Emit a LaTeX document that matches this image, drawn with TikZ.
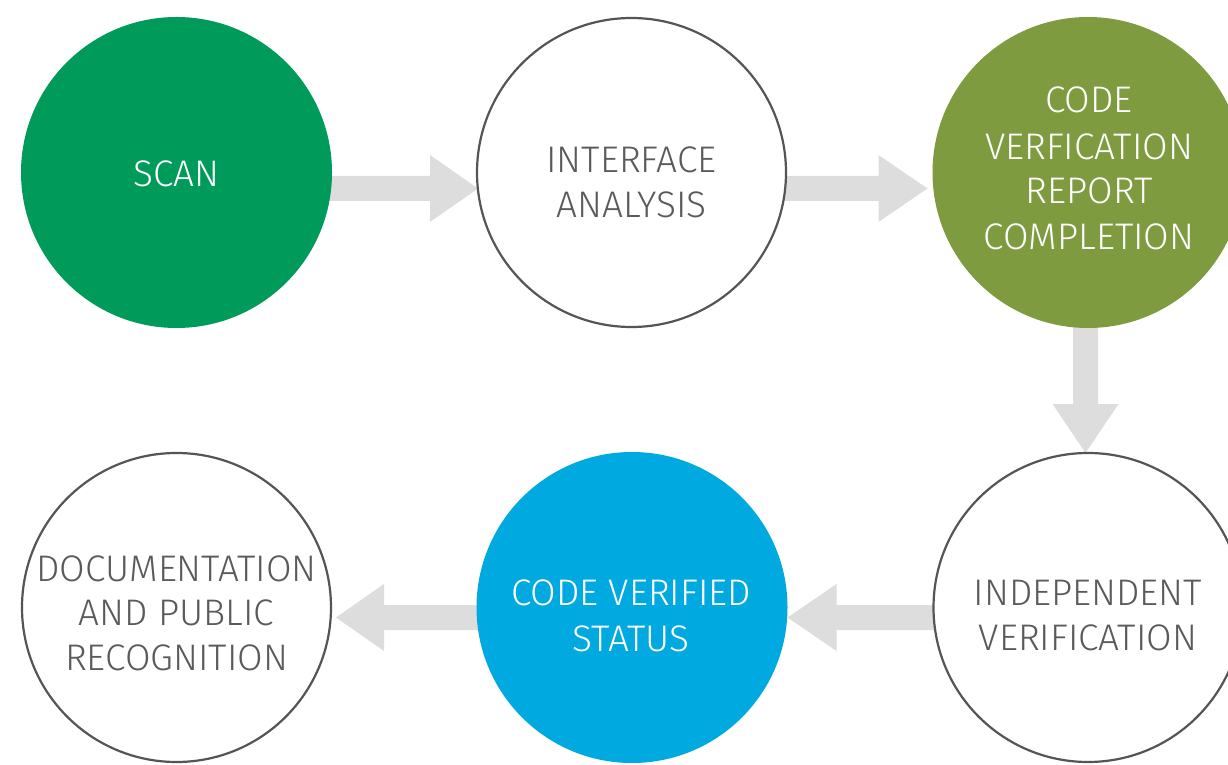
\documentclass[tikz,border=0pt]{standalone}
\usepackage{fontspec}
\setmainfont{Fira Sans}[UprightFont={* Light}]
\usetikzlibrary{calc}
\pgfdeclarelayer{bg}
\pgfsetlayers{bg,main}
\definecolor{scangreen}{HTML}{009A5B}
\definecolor{olivegreen}{HTML}{7F9B3F}
\definecolor{skyblue}{HTML}{00A9E0}
\definecolor{ringgray}{HTML}{555555}
\definecolor{txtgray}{HTML}{5A5A5A}
\definecolor{flowgray}{HTML}{DDDDDD}
\begin{document}
\begin{tikzpicture}[x=1pt,y=1pt,
  stage/.style={circle, inner sep=0pt, outer sep=0pt},
  solidstage/.style={stage, fill=#1, minimum size=311pt},
  ringstage/.style={stage, fill=white, draw=ringgray, line width=2.2pt, minimum size=309pt},
  lbl/.style={anchor=base, inner sep=0pt, font=\fontsize{37}{44}\selectfont, text=#1},
  flowfill/.style={fill=flowgray},
]
\useasboundingbox (0,0) rectangle (1228,764);

% stages
\node[solidstage=scangreen] (c1) at (176.5,591.5) {};
\node[ringstage] (c2) at (631.5,591.5) {};
\node[solidstage=olivegreen] (c3) at (1088,591.5) {};
\node[ringstage] (c4) at (1088,156.5) {};
\node[solidstage=skyblue] (c5) at (632,156.5) {};
\node[ringstage] (c6) at (176.5,156.5) {};

% labels
\node[lbl=white] (t1a) at ([yshift=-14.5]c1.center) {SCAN};
\node[lbl=txtgray] (t2a) at ([yshift=0.2]c2.center) {INTERFACE};
\node[lbl=txtgray] (t2b) at ([yshift=-44.8]c2.center) {ANALYSIS};
\node[lbl=white] (t3a) at ([shift={(1,59.8)}]c3.center) {CODE};
\node[lbl=white] (t3b) at ([shift={(1,13.2)}]c3.center) {VERFICATION};
\node[lbl=white] (t3c) at ([shift={(1,-31.5)}]c3.center) {REPORT};
\node[lbl=white] (t3d) at ([shift={(1,-76.8)}]c3.center) {COMPLETION};
\node[lbl=txtgray] (t4a) at ([yshift=1.8]c4.center) {INDEPENDENT};
\node[lbl=txtgray] (t4b) at ([yshift=-43.2]c4.center) {VERIFICATION};
\node[lbl=white] (t5a) at ([shift={(-1,2.5)}]c5.center) {CODE VERIFIED};
\node[lbl=white] (t5b) at ([shift={(-1,-43.5)}]c5.center) {STATUS};
\node[lbl=txtgray] (t6a) at ([yshift=25.8]c6.center) {DOCUMENTATION};
\node[lbl=txtgray] (t6b) at ([yshift=-18.2]c6.center) {AND PUBLIC};
\node[lbl=txtgray] (t6c) at ([yshift=-63.2]c6.center) {RECOGNITION};

% connectors (block arrows behind the stages)
\begin{pgfonlayer}{bg}
  \coordinate (a1s) at ([yshift=-16]c1.center);
  \coordinate (a1e) at ([shift={(1,-16)}]c2.west);
  \fill[flowfill] ($(a1s)+(0,12.5)$) -- ($(a1e)+(-48,12.5)$) -- ($(a1e)+(-48,33.5)$) -- (a1e)
    -- ($(a1e)+(-48,-33.5)$) -- ($(a1e)+(-48,-12.5)$) -- ($(a1s)+(0,-12.5)$) -- cycle;

  \coordinate (a2s) at ([yshift=-16]c2.center);
  \coordinate (a2e) at ([shift={(-5,-16)}]c3.west);
  \fill[flowfill] ($(a2s)+(0,12.5)$) -- ($(a2e)+(-49,12.5)$) -- ($(a2e)+(-49,33.5)$) -- (a2e)
    -- ($(a2e)+(-49,-33.5)$) -- ($(a2e)+(-49,-12.5)$) -- ($(a2s)+(0,-12.5)$) -- cycle;

  \coordinate (a3s) at ([xshift=-2.5]c3.center);
  \coordinate (a3e) at ([xshift=-2.5]c4.north);
  \fill[flowfill] ($(a3s)+(-12.5,0)$) -- ($(a3e)+(-12.5,49)$) -- ($(a3e)+(-33,49)$) -- (a3e)
    -- ($(a3e)+(33,49)$) -- ($(a3e)+(12.5,49)$) -- ($(a3s)+(12.5,0)$) -- cycle;

  \coordinate (a4s) at ([yshift=-10]c4.center);
  \coordinate (a4e) at ([yshift=-10]c5.east);
  \fill[flowfill] ($(a4s)+(0,12.5)$) -- ($(a4e)+(49,12.5)$) -- ($(a4e)+(49,33.5)$) -- (a4e)
    -- ($(a4e)+(49,-33.5)$) -- ($(a4e)+(49,-12.5)$) -- ($(a4s)+(0,-12.5)$) -- cycle;

  \coordinate (a5s) at ([yshift=-10]c5.center);
  \coordinate (a5e) at ([shift={(5,-10)}]c6.east);
  \fill[flowfill] ($(a5s)+(0,12.5)$) -- ($(a5e)+(48,12.5)$) -- ($(a5e)+(48,33.5)$) -- (a5e)
    -- ($(a5e)+(48,-33.5)$) -- ($(a5e)+(48,-12.5)$) -- ($(a5s)+(0,-12.5)$) -- cycle;
\end{pgfonlayer}
\end{tikzpicture}
\end{document}
